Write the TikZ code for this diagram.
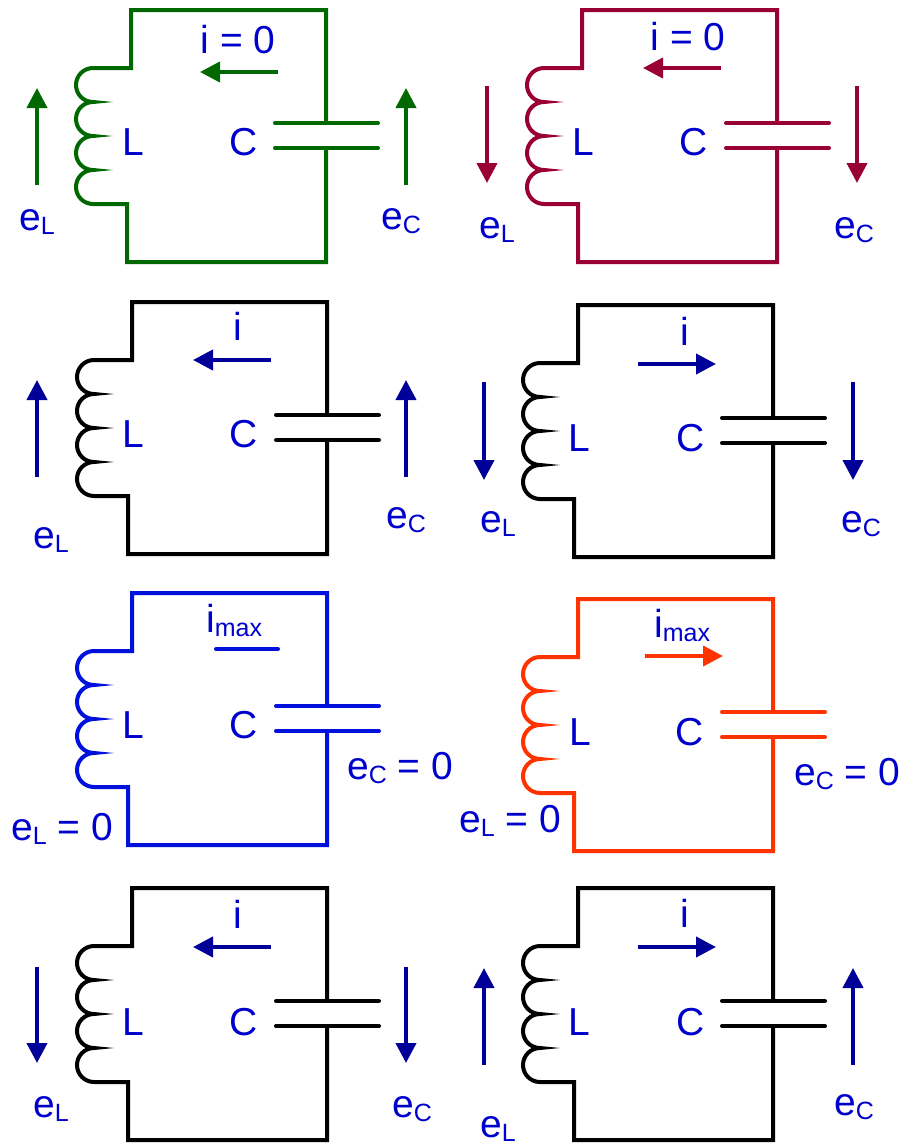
\documentclass[tikz,border=0pt]{standalone}
\usepackage{fontspec}
\setmainfont{Liberation Sans}
\usetikzlibrary{arrows.meta}
\definecolor{tblue}{RGB}{0,0,204}
\definecolor{navy}{RGB}{0,0,153}
\definecolor{cgreen}{RGB}{0,104,0}
\definecolor{ccrimson}{RGB}{153,0,51}
\definecolor{cblue}{RGB}{0,17,221}
\definecolor{corange}{RGB}{255,51,0}
\newcommand\sbs[1]{\raisebox{-4pt}{\fontsize{25}{25}\selectfont #1}}
\newcommand\lcckt[3]{%
  \begin{scope}[shift={(#1,#2)}]
    \draw[wire,#3] (195,113) -- (195,0) -- (0,0) -- (0,58) -- (-38,58)
      arc[start angle=90,end angle=270,radius=17pt]
      arc[start angle=90,end angle=270,radius=17pt]
      arc[start angle=90,end angle=270,radius=17pt]
      arc[start angle=90,end angle=270,radius=17pt]
      -- (-4,194) -- (-4,252) -- (195,252) -- (195,138);
    \draw[wire,#3] (144,113) -- (247,113) (144,138) -- (247,138);
  \end{scope}}
\begin{document}
\begin{tikzpicture}[x=1pt,y=-1pt,
  wire/.style={line width=4pt,line join=miter,line cap=round},
  arr/.style={line width=4pt,-{Triangle[length=20pt,width=20pt]}},
  lab/.style={text=tblue,font=\fontsize{39}{39}\selectfont,inner sep=0pt,anchor=base}]
\useasboundingbox (0,0) rectangle (909,1146);
% circuits
\lcckt{131}{10}{cgreen}
\lcckt{582}{10}{ccrimson}
\lcckt{132}{302}{black}
\lcckt{578}{305}{black}
\lcckt{132}{593}{cblue}
\lcckt{578}{599}{corange}
\lcckt{132}{888}{black}
\lcckt{578}{888}{black}
% ---- circuit 1
\coordinate (a1t) at (37,185); \coordinate (a1h) at (37,88);
\coordinate (b1t) at (406,185); \coordinate (b1h) at (406,88);
\coordinate (i1t) at (278,72); \coordinate (i1h) at (200,72);
\draw[arr,cgreen] (a1t) -- (a1h);
\draw[arr,cgreen] (b1t) -- (b1h);
\draw[arr,cgreen] (i1t) -- (i1h);
\node[lab] (n1i) at (238,53) {i = 0};
\node[lab] (n1L) at (133,155) {L};
\node[lab] (n1C) at (244,155) {C};
\node[lab] (n1eL) at (37,230) {e\sbs{L}};
\node[lab] (n1eC) at (401,229) {e\sbs{C}};
% ---- circuit 2
\coordinate (a2t) at (487,86); \coordinate (a2h) at (487,183);
\coordinate (b2t) at (857,86); \coordinate (b2h) at (857,183);
\coordinate (i2t) at (721,68); \coordinate (i2h) at (643,68);
\draw[arr,ccrimson] (a2t) -- (a2h);
\draw[arr,ccrimson] (b2t) -- (b2h);
\draw[arr,ccrimson] (i2t) -- (i2h);
\node[lab] (n2i) at (688,50) {i = 0};
\node[lab] (n2L) at (583,155) {L};
\node[lab] (n2C) at (694,155) {C};
\node[lab] (n2eL) at (497,238) {e\sbs{L}};
\node[lab] (n2eC) at (854,238) {e\sbs{C}};
% ---- circuit 3
\coordinate (a3t) at (37,477); \coordinate (a3h) at (37,380);
\coordinate (b3t) at (406,477); \coordinate (b3h) at (406,380);
\coordinate (i3t) at (271,360); \coordinate (i3h) at (193,360);
\draw[arr,navy] (a3t) -- (a3h);
\draw[arr,navy] (b3t) -- (b3h);
\draw[arr,navy] (i3t) -- (i3h);
\node[lab] (n3i) at (238,340) {i};
\node[lab] (n3L) at (133,447) {L};
\node[lab] (n3C) at (244,447) {C};
\node[lab] (n3eL) at (51,548) {e\sbs{L}};
\node[lab] (n3eC) at (406,528) {e\sbs{C}};
% ---- circuit 4
\coordinate (a4t) at (484,382); \coordinate (a4h) at (484,480);
\coordinate (b4t) at (853,382); \coordinate (b4h) at (853,480);
\coordinate (i4t) at (638,364); \coordinate (i4h) at (716,364);
\draw[arr,navy] (a4t) -- (a4h);
\draw[arr,navy] (b4t) -- (b4h);
\draw[arr,navy] (i4t) -- (i4h);
\node[lab] (n4i) at (685,345) {i};
\node[lab] (n4L) at (579,451) {L};
\node[lab] (n4C) at (691,451) {C};
\node[lab] (n4eL) at (498,532) {e\sbs{L}};
\node[lab] (n4eC) at (861,532) {e\sbs{C}};
% ---- circuit 5
\coordinate (i5t) at (216,649); \coordinate (i5h) at (278,649);
\draw[wire,cblue] (i5t) -- (i5h);
\node[lab,anchor=base west] (n5i) at (206,632) {i\sbs{max}};
\node[lab] (n5L) at (133,738) {L};
\node[lab] (n5C) at (244,738) {C};
\node[lab] (n5eC) at (400,779) {e\sbs{C} = 0};
\node[lab] (n5eL) at (62,840) {e\sbs{L} = 0};
% ---- circuit 6
\coordinate (i6t) at (645,656); \coordinate (i6h) at (723,656);
\draw[arr,corange] (i6t) -- (i6h);
\node[lab,anchor=base west] (n6i) at (654,637) {i\sbs{max}};
\node[lab] (n6L) at (580,745) {L};
\node[lab] (n6C) at (690,745) {C};
\node[lab] (n6eC) at (847,785) {e\sbs{C} = 0};
\node[lab] (n6eL) at (510,832) {e\sbs{L} = 0};
% ---- circuit 7
\coordinate (a7t) at (37,967); \coordinate (a7h) at (37,1063);
\coordinate (b7t) at (406,967); \coordinate (b7h) at (406,1063);
\coordinate (i7t) at (271,947); \coordinate (i7h) at (193,947);
\draw[arr,navy] (a7t) -- (a7h);
\draw[arr,navy] (b7t) -- (b7h);
\draw[arr,navy] (i7t) -- (i7h);
\node[lab] (n7i) at (238,928) {i};
\node[lab] (n7L) at (133,1035) {L};
\node[lab] (n7C) at (244,1035) {C};
\node[lab] (n7eL) at (51,1117) {e\sbs{L}};
\node[lab] (n7eC) at (412,1117) {e\sbs{C}};
% ---- circuit 8
\coordinate (a8t) at (484,1065); \coordinate (a8h) at (484,968);
\coordinate (b8t) at (853,1065); \coordinate (b8h) at (853,968);
\coordinate (i8t) at (638,947); \coordinate (i8h) at (716,947);
\draw[arr,navy] (a8t) -- (a8h);
\draw[arr,navy] (b8t) -- (b8h);
\draw[arr,navy] (i8t) -- (i8h);
\node[lab] (n8i) at (685,927) {i};
\node[lab] (n8L) at (579,1035) {L};
\node[lab] (n8C) at (691,1035) {C};
\node[lab] (n8eL) at (498,1137) {e\sbs{L}};
\node[lab] (n8eC) at (854,1115) {e\sbs{C}};
\end{tikzpicture}
\end{document}
